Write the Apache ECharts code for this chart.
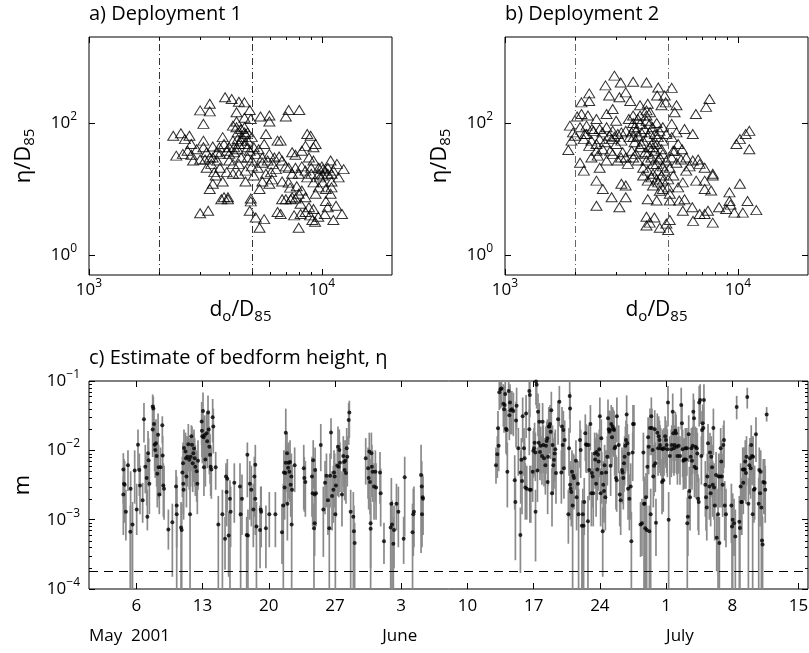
<!DOCTYPE html>
<html>
<head>
<meta charset="utf-8">
<title>Bedform height estimates</title>
<script src="https://cdn.jsdelivr.net/npm/echarts@6/dist/echarts.min.js"></script>
<style>
  html, body { margin: 0; padding: 0; background: #fff; }
  #chart { width: 809px; height: 653px; }
</style>
</head>
<body>
<div id="chart"></div>
<script>
// ---------------------------------------------------------------------------
// Data
// ---------------------------------------------------------------------------

// [d_o/D85, eta/D85] per burst, deployment 1
const dep1Ripples = [
  [3840,245],[4100,230],[4400,210],[4650,205],[3000,155],[3300,150],[3300,195],[4300,145],[4900,157],[5450,125],
  [5950,130],[7200,157],[8000,157],[7000,125],[3100,97],[4150,91],[4300,105],[4650,120],[4950,115],[5950,105],
  [5750,68],[6450,54],[6650,54],[8650,68],[8950,64],[2300,64],[2480,70],[2700,64],[2580,57],[2750,48],
  [3100,54],[3100,43],[3400,44],[3750,61],[3630,43],[2370,32],[2530,34],[2650,38],[2800,27],[3000,28],
  [3150,28],[3400,30],[3550,36],[3900,38],[4000,34],[4200,43],[4150,54],[4400,48],[4550,61],[4800,54],
  [5000,61],[4700,68],[4350,72],[4650,86],[4800,43],[5100,43],[5350,40],[5650,48],[5950,34],[6250,30],
  [6550,31],[6750,27],[7450,36],[7700,33],[8200,38],[8500,45],[9200,43],[9400,48],[8800,30],[9200,27],
  [9700,21],[10000,22],[10300,19],[10600,17],[10900,27],[11600,24],[12400,20],[11000,17],[9800,15],[9000,17],
  [8500,19],[7950,17],[7200,21],[7450,17],[7000,22],[6750,13],[6100,14],[5750,17],[5300,21],[5550,25],
  [5000,22],[4700,19],[4400,17],[4700,13],[5400,10],[5000,27],[4500,30],[4150,24],[3900,18],[3650,21],
  [3450,18],[3400,12],[3300,10],[4150,17],[3700,7],[3800,7.5],[3950,7.5],[3950,7],[3000,4.3],[3250,4.7],
  [4950,7.2],[4950,6.5],[4900,4.7],[5200,3.7],[5400,2.6],[5650,3.5],[6450,4.5],[6750,7],[7000,7],[7350,7],
  [7450,7.5],[7700,7.2],[7950,8.5],[8100,6],[8200,9.5],[6650,4.2],[7600,4],[8100,4.2],[8900,4],[9100,3.4],
  [9350,3.2],[7950,2.6],[9650,3.8],[10300,4.2],[11200,3.4],[12200,4.2],[10600,5.3],[10400,6.6],[10900,8.5],[11500,5.6],
  [11000,10.6],[9700,10.6],[10100,12.6],[9400,8.5],[8500,7.5],[9000,21],[11800,15],
  [4300,86],[4500,81],[4650,72],[4800,72],[4350,57],[4500,54],[4650,48],[4900,38],[4200,36],[4350,40],
  [4000,43],[3800,48],[3650,34],[4000,27],[4400,24],[4800,30],[5200,34],[5550,30],[5850,27],[6150,24],
  [3350,24],[3200,21],[3500,16],[3750,13],[3200,36],[3300,30],[3550,27],[2900,40],[2750,33],[7700,21],
  [8200,22],[8650,15],[9200,12.6],[9700,17],[10100,20],[10600,21],[11200,19],[10100,16],[11000,13],[10400,10],
  [8800,5.3],[9200,5],[8500,4.5],[7300,10.5],[7800,11],[7200,12.5],[6350,20],[6050,18],[5100,16],[5550,13],
  [5950,12]
];

// [d_o/D85, eta/D85] per burst, deployment 2
const dep2Ripples = [
  [2950,520],[3140,410],[2700,370],[3550,420],[4050,410],[4550,345],[5200,340],[4850,260],[4500,260],[2300,280],
  [2130,205],[2300,215],[2800,260],[3100,245],[3300,290],[3450,215],[3800,185],[4100,195],[4200,145],[4700,185],
  [4900,205],[5450,185],[5350,145],[7550,230],[7300,175],[6600,137],[2130,137],[2040,125],[2270,130],[1900,91],
  [1960,72],[2100,86],[2200,68],[2400,76],[2550,81],[2730,86],[2900,76],[3050,68],[3300,76],[3600,86],
  [3800,97],[4050,108],[4300,86],[4600,76],[5200,97],[5900,81],[6400,68],[2470,115],[2730,137],[2900,163],
  [3550,130],[3800,130],[4050,155],[1870,39],[1930,54],[2000,64],[2180,57],[2350,54],[2470,48],[2550,57],
  [2680,51],[2870,57],[3000,48],[3160,54],[3430,61],[3600,51],[3720,64],[3920,54],[4100,61],[4320,51],
  [4530,61],[4760,54],[4930,68],[5200,61],[5540,48],[5760,40],[5270,38],[6000,30],[6400,27],[6750,28],
  [7200,21],[7800,17],[7200,13.4],[6620,13.4],[6000,19],[5800,12.6],[5540,10.6],[2100,25],[2180,19],[2350,30],
  [2500,32],[2550,21],[2730,27],[2900,34],[3050,27],[3200,36],[3300,30],[3500,38],[3650,34],[3800,43],
  [4000,36],[4050,27],[4250,30],[4400,38],[4480,24],[4620,30],[4760,34],[4930,27],[5100,21],[4550,19],
  [4320,17],[4100,19],[3920,21],[4100,13.4],[4320,11.3],[4550,12.6],[4760,13.4],[5020,10.6],[4620,9.4],[4480,6.7],
  [4100,7],[5100,6.7],[5600,6.7],[5900,7],[6370,5.3],[5800,4.7],[5100,3.4],[4930,3],[4620,2.6],[5020,2.4],
  [4380,3.7],[4050,3.8],[4050,2.8],[4180,3.1],[2470,13.4],[2630,10],[2870,7.5],[3160,12],[3300,11.3],[3300,7.5],
  [3100,5.3],[2470,5.6],[6420,3.3],[6850,4.2],[7200,4.2],[7440,4.7],[7800,3.1],[8300,5.3],[8900,5],[9200,6.6],
  [9200,8.9],[9650,4.4],[10500,4.4],[11000,6.6],[12000,4.8],[9300,5.8],[10200,12],[9850,48],[10200,57],[10800,68],
  [11200,76],[11200,40],[7800,16],[7680,9.5],[7200,10],[6850,24],[6200,22],
  [2620,72],[2800,64],[2950,62],[3160,72],[3500,72],[3650,76],[3850,72],[3980,81],[4180,72],[4400,68],
  [3560,61],[3850,48],[4180,43],[4480,48],[4700,40],[4320,43],[4100,34],[4320,24],[4550,28],[4760,22],
  [4850,19],[4700,16],[4480,14],[4250,15],[3920,16],[3720,27],[3550,30],[3370,24],[3150,30],[2830,38],
  [2630,40],[2470,38],[2300,45],[2240,68],[2360,81],[2240,91],[3000,108],[3400,115],[3550,100],[3720,115],
  [4050,130],[4180,97],[4480,100],[4760,86],[5450,72],[5350,38],[5200,30],[5450,25],[5700,28],[5280,16],
  [5020,14],[4760,10],[5100,8.5]
];

// d_o/D85 limits drawn as dash-dot lines
const regimeLimits = [2000, 5000];

// [days since 1 May 2001, eta (m), lower bound, upper bound], deployment 1
const dep1Heights = [
  [3.63,0.0053,0.0017,0.0091],[3.70,0.0033,0.0011,0.0075],[3.77,0.0032,0.0009,0.0070],[3.63,0.0023,0.0006,0.0042],
  [3.90,0.0013,0.0005,0.0027],[4.12,0.0061,0.0026,0.0100],[4.37,0.00067,0.00005,0.0016],[4.60,0.00085,0.00005,0.0018],
  [4.40,0.0028,0.00005,0.0050],[4.83,0.0051,0.0017,0.0100],[5.04,0.0014,0.0006,0.0033],[5.18,0.012,0.0052,0.020],
  [5.32,0.0052,0.0022,0.0090],[5.39,0.0031,0.0012,0.0060],[5.67,0.0019,0.0009,0.0034],[5.81,0.028,0.013,0.048],
  [5.95,0.0058,0.0024,0.012],[6.10,0.0040,0.0016,0.0085],[6.17,0.0011,0.0007,0.0027],[6.24,0.0091,0.0035,0.019],
  [6.30,0.0072,0.0030,0.015],[6.38,0.0033,0.0012,0.0070],[6.73,0.043,0.020,0.064],[6.80,0.040,0.018,0.060],
  [6.73,0.020,0.008,0.040],[6.87,0.024,0.010,0.045],[6.94,0.012,0.005,0.026],[7.00,0.0101,0.004,0.022],
  [7.08,0.0126,0.005,0.028],[7.15,0.0083,0.003,0.018],[7.22,0.0046,0.0015,0.010],[7.30,0.0168,0.007,0.034],
  [7.36,0.0057,0.002,0.012],[7.43,0.0023,0.0012,0.0052],[7.57,0.0057,0.0022,0.011],[7.75,0.023,0.0126,0.031],
  [7.79,0.0084,0.003,0.016],[7.86,0.0031,0.0011,0.0065],[7.93,0.0028,0.0010,0.0060],[8.39,0.00072,0.00037,0.0014],
  [8.81,0.00092,0.00015,0.0017],[9.20,0.0030,0.0012,0.0052],[9.27,0.0016,0.00005,0.0042],[9.27,0.0012,0.0004,0.0028],
  [9.73,0.00077,0.00005,0.0018],[9.80,0.00071,0.00005,0.0017],[9.87,0.0048,0.0021,0.0081],[9.94,0.0065,0.0025,0.013],
  [9.97,0.0033,0.0012,0.0070],[10.00,0.0027,0.0010,0.006],[10.04,0.0108,0.0045,0.020],[10.20,0.0096,0.004,0.018],
  [10.25,0.0077,0.003,0.016],[10.30,0.0042,0.0015,0.009],[10.40,0.0081,0.003,0.016],[10.50,0.0122,0.005,0.024],
  [10.60,0.0073,0.0027,0.015],[10.68,0.0012,0.00005,0.0032],[10.75,0.0081,0.003,0.016],[10.82,0.016,0.0065,0.023],
  [10.89,0.012,0.005,0.022],[10.96,0.0065,0.0025,0.013],[11.03,0.0091,0.0035,0.018],[11.10,0.0106,0.004,0.020],
  [11.17,0.0077,0.003,0.015],[11.24,0.0058,0.0022,0.012],[11.38,0.0050,0.0018,0.010],[11.45,0.0033,0.0012,0.007],
  [11.52,0.0071,0.0027,0.014],[11.91,0.026,0.012,0.050],[11.94,0.0192,0.008,0.035],[11.98,0.016,0.0065,0.030],
  [12.05,0.037,0.016,0.068],[12.12,0.0155,0.006,0.030],[12.15,0.0057,0.0022,0.012],[12.23,0.0167,0.007,0.032],
  [12.30,0.0074,0.003,0.015],[12.44,0.0176,0.007,0.034],[12.50,0.0135,0.0055,0.027],[12.58,0.035,0.015,0.062],
  [12.65,0.020,0.008,0.038],[12.72,0.0113,0.0045,0.022],[12.80,0.0086,0.0033,0.017],[12.86,0.0058,0.0022,0.012],
  [12.93,0.0053,0.002,0.011],[13.07,0.030,0.013,0.055],[13.14,0.022,0.009,0.040],[13.39,0.0057,0.0027,0.0095],
  [13.67,0.00085,0.00005,0.0022],[14.10,0.0012,0.00005,0.0027],[14.38,0.00053,0.00019,0.0011],[14.48,0.0042,0.0011,0.0065],
  [14.55,0.0025,0.0008,0.0055],[14.62,0.0039,0.0013,0.0075],[14.76,0.00059,0.00015,0.0013],[14.90,0.0020,0.00005,0.0037],
  [14.97,0.0013,0.0004,0.0030],[15.36,0.0034,0.0009,0.0065],[15.96,0.0030,0.0011,0.0065],[16.03,0.0012,0.00005,0.0027],
  [16.17,0.0020,0.0006,0.0045],[16.67,0.00060,0.00005,0.0011],[16.74,0.0086,0.0021,0.013],[16.80,0.00059,0.00005,0.0014],
  [17.00,0.0033,0.0010,0.0070],[17.16,0.0027,0.0008,0.0060],[17.37,0.0014,0.0004,0.0033],[17.48,0.0042,0.0011,0.0081],
  [17.58,0.0062,0.0022,0.012],[17.58,0.0020,0.0006,0.0045],[17.70,0.00080,0.00005,0.0018],[18.08,0.00071,0.0002,0.0016],
  [18.15,0.0014,0.0004,0.0030],[18.20,0.0013,0.0004,0.0030],[18.70,0.00075,0.0002,0.0016],[19.06,0.0012,0.0004,0.0025],
  [19.70,0.0012,0.0004,0.0025],[20.40,0.00066,0.00023,0.0017],[20.54,0.0016,0.00005,0.0033],[20.60,0.0048,0.0018,0.010],
  [20.68,0.0029,0.0010,0.0065],[20.75,0.0047,0.0017,0.010],[20.80,0.0066,0.0025,0.013],[20.80,0.018,0.0066,0.040],
  [20.93,0.0091,0.0035,0.018],[20.97,0.0017,0.0005,0.004],[21.04,0.0056,0.002,0.012],[21.10,0.0066,0.0025,0.013],
  [21.18,0.0049,0.0018,0.010],[21.25,0.0068,0.0025,0.014],[21.32,0.0032,0.0011,0.007],[21.39,0.0042,0.0015,0.009],
  [21.42,0.00085,0.00005,0.0017],[21.46,0.0027,0.0009,0.006],[21.74,0.0061,0.0025,0.011],[22.70,0.0055,0.0014,0.012],
  [22.76,0.0040,0.0013,0.008],[22.87,0.0035,0.0011,0.007],[23.57,0.0042,0.0011,0.0081],[23.64,0.0024,0.0008,0.0055],
  [23.70,0.0072,0.0028,0.014],[23.78,0.00075,0.00005,0.0017],[23.85,0.0023,0.0007,0.005],[23.85,0.00089,0.0003,0.002],
  [23.90,0.0052,0.002,0.011],[23.99,0.0024,0.0008,0.0055],[24.50,0.0119,0.005,0.024],[24.77,0.0014,0.00029,0.0030],
  [24.95,0.0034,0.0012,0.007],[25.10,0.0043,0.0015,0.009],[25.26,0.0019,0.0006,0.0042],[25.40,0.00075,0.00005,0.0017],
  [25.48,0.0043,0.0015,0.009],[25.58,0.0181,0.0075,0.029],[25.69,0.0022,0.0007,0.005],[25.83,0.0027,0.0009,0.006],
  [25.90,0.0048,0.0017,0.010],[25.97,0.0042,0.0015,0.009],[26.04,0.0012,0.00005,0.0027],[26.10,0.0031,0.0011,0.0065],
  [26.25,0.0060,0.0022,0.012],[26.32,0.0113,0.0045,0.022],[26.40,0.0058,0.0021,0.012],[26.46,0.0101,0.004,0.020],
  [26.53,0.0066,0.0025,0.013],[26.74,0.0023,0.0008,0.005],[26.88,0.0083,0.003,0.016],[26.95,0.0068,0.0025,0.014],
  [27.02,0.0052,0.0019,0.011],[27.10,0.0071,0.0027,0.014],[27.16,0.0047,0.0017,0.010],[27.24,0.0107,0.0042,0.021],
  [27.30,0.0081,0.003,0.016],[27.45,0.0274,0.012,0.048],[27.52,0.035,0.015,0.052],[27.66,0.0013,0.00005,0.0027],
  [27.94,0.0011,0.00005,0.0025],[28.00,0.00068,0.0002,0.0016],[28.08,0.00046,0.00005,0.0009],[29.25,0.0077,0.0032,0.015],
  [29.50,0.0055,0.002,0.011],[29.56,0.0040,0.0014,0.0085],[29.63,0.0096,0.0037,0.018],[29.70,0.0035,0.0012,0.0075],
  [29.77,0.00089,0.00005,0.0021],[29.77,0.00074,0.0002,0.0017],[29.85,0.0091,0.0035,0.018],[29.90,0.0058,0.0021,0.012],
  [29.98,0.0049,0.0018,0.010],[30.13,0.0030,0.0010,0.0065],[30.27,0.0049,0.0018,0.010],[30.34,0.0029,0.001,0.0065],
  [30.76,0.0048,0.0017,0.0095],[30.83,0.0024,0.0008,0.0055],[31.18,0.00049,0.00023,0.0009],[31.89,0.00077,0.00005,0.0017],
  [31.96,0.0017,0.0005,0.004],[32.03,0.00085,0.00005,0.0019],[32.17,0.00045,0.00005,0.0011],[32.24,0.00071,0.0002,0.0016],
  [32.50,0.0017,0.0007,0.0033],[32.70,0.0013,0.0004,0.003],[33.26,0.00053,0.00023,0.0011],[33.37,0.0041,0.00057,0.0081],
  [34.20,0.00066,0.00005,0.0017],[34.28,0.0012,0.0003,0.0028],[34.35,0.0013,0.0004,0.003],[35.10,0.0044,0.00033,0.012],
  [35.17,0.0030,0.0006,0.007],[35.20,0.0012,0.0004,0.0028],[35.27,0.0021,0.0006,0.0045],[35.30,0.0020,0.0006,0.0042]
];

// [days since 1 May 2001, eta (m), lower bound, upper bound], deployment 2
const dep2Heights = [
  [43.02,0.0061,0.0033,0.011],[43.16,0.0088,0.004,0.016],[43.23,0.0208,0.009,0.037],[43.30,0.0116,0.005,0.022],
  [43.37,0.069,0.038,0.10],[43.50,0.076,0.04,0.12],[43.60,0.078,0.042,0.13],[43.80,0.047,0.022,0.09],
  [43.87,0.039,0.018,0.075],[43.94,0.045,0.02,0.085],[44.00,0.065,0.03,0.12],[44.08,0.0205,0.009,0.04],
  [44.15,0.0197,0.0085,0.038],[44.22,0.0049,0.0015,0.013],[44.36,0.072,0.035,0.13],[44.43,0.032,0.014,0.06],
  [44.50,0.049,0.022,0.09],[44.57,0.038,0.017,0.07],[44.70,0.039,0.017,0.072],[44.86,0.037,0.016,0.068],
  [45.00,0.0037,0.0014,0.0085],[45.07,0.0018,0.00026,0.0042],[45.14,0.027,0.011,0.05],[45.20,0.044,0.02,0.08],
  [45.38,0.0107,0.0043,0.021],[45.60,0.0006,0.00017,0.0015],[45.63,0.0048,0.0017,0.010],[45.70,0.0073,0.0028,0.015],
  [45.77,0.0036,0.0012,0.0078],[45.84,0.031,0.013,0.058],[45.98,0.0107,0.0043,0.021],[46.05,0.0077,0.003,0.015],
  [46.12,0.0029,0.001,0.0065],[46.20,0.034,0.015,0.063],[46.27,0.0028,0.001,0.006],[46.54,0.072,0.034,0.13],
  [46.60,0.063,0.03,0.11],[46.54,0.0201,0.0085,0.039],[46.60,0.0027,0.0009,0.006],[46.70,0.0027,0.0009,0.006],
  [46.90,0.0049,0.0018,0.010],[46.97,0.0099,0.004,0.019],[47.04,0.0107,0.0043,0.021],[47.10,0.0129,0.005,0.025],
  [47.18,0.0093,0.0036,0.018],[47.20,0.0013,0.00025,0.0027],[47.25,0.098,0.045,0.17],[47.32,0.088,0.04,0.16],
  [47.40,0.0051,0.0018,0.011],[47.46,0.036,0.016,0.066],[47.53,0.0129,0.005,0.025],[47.60,0.0259,0.011,0.048],
  [47.67,0.0095,0.0037,0.018],[47.74,0.0116,0.0046,0.022],[47.88,0.0083,0.0032,0.016],[47.95,0.0259,0.011,0.048],
  [48.02,0.0119,0.0047,0.023],[48.10,0.0077,0.003,0.015],[48.24,0.0061,0.0023,0.012],[48.30,0.0116,0.0046,0.022],
  [48.38,0.0136,0.0055,0.026],[48.45,0.0149,0.006,0.028],[48.48,0.0035,0.0012,0.0075],[48.52,0.0081,0.0031,0.016],
  [48.60,0.022,0.009,0.042],[48.66,0.022,0.009,0.042],[48.73,0.024,0.01,0.045],[48.80,0.0186,0.0075,0.036],
  [48.87,0.038,0.017,0.07],[48.94,0.0024,0.0008,0.0055],[49.00,0.0119,0.0047,0.023],[49.08,0.0061,0.0023,0.012],
  [49.15,0.0073,0.0028,0.015],[49.22,0.0090,0.0035,0.018],[49.29,0.0104,0.0041,0.02],[49.36,0.0047,0.0017,0.0095],
  [49.58,0.028,0.012,0.052],[49.72,0.050,0.022,0.085],[49.93,0.0048,0.0017,0.010],[50.00,0.0221,0.009,0.042],
  [50.07,0.0119,0.0047,0.023],[50.14,0.0197,0.008,0.037],[50.20,0.0055,0.002,0.011],[50.28,0.0141,0.0056,0.027],
  [50.67,0.0012,0.00045,0.0027],[50.74,0.0107,0.0043,0.021],[50.81,0.061,0.028,0.1],[50.85,0.040,0.018,0.07],
  [50.85,0.0032,0.0011,0.007],[50.90,0.0028,0.001,0.006],[50.98,0.0025,0.0008,0.0055],[51.05,0.0049,0.0018,0.010],
  [51.12,0.0016,0.00005,0.0036],[51.20,0.0043,0.0015,0.009],[51.26,0.0040,0.0014,0.0085],[51.47,0.0071,0.0027,0.014],
  [51.54,0.0021,0.0007,0.0047],[51.68,0.0033,0.0011,0.007],[51.75,0.0012,0.00005,0.0028],[51.90,0.0141,0.0056,0.027],
  [51.97,0.0101,0.004,0.02],[52.10,0.00082,0.00005,0.0019],[52.20,0.0012,0.00005,0.0028],[52.28,0.00082,0.00005,0.0019],
  [52.35,0.0018,0.0006,0.004],[52.46,0.0176,0.007,0.033],[52.53,0.0122,0.0048,0.024],[52.60,0.0119,0.0047,0.023],
  [52.74,0.00095,0.00005,0.0022],[52.81,0.0119,0.0047,0.023],[52.88,0.0052,0.0019,0.011],[53.00,0.024,0.01,0.045],
  [53.10,0.0024,0.0008,0.0055],[53.15,0.0047,0.0017,0.0095],[53.24,0.0042,0.0015,0.009],[53.30,0.0024,0.0008,0.0055],
  [53.45,0.0090,0.0035,0.018],[53.50,0.0074,0.0028,0.015],[53.60,0.0033,0.0011,0.007],[53.66,0.0095,0.0037,0.018],
  [53.73,0.0053,0.0019,0.011],[53.80,0.0086,0.0033,0.017],[53.87,0.0069,0.0026,0.014],[53.94,0.0104,0.0041,0.02],
  [54.00,0.031,0.013,0.058],[54.08,0.0024,0.0008,0.0055],[54.15,0.0149,0.006,0.028],[54.20,0.0047,0.0017,0.0095],
  [54.30,0.00068,0.00015,0.0015],[54.36,0.0032,0.0011,0.007],[54.44,0.0026,0.0009,0.0058],[54.50,0.0061,0.0023,0.012],
  [54.58,0.0021,0.0007,0.0047],[54.65,0.0048,0.0017,0.010],[54.79,0.0081,0.0031,0.016],[54.86,0.029,0.012,0.054],
  [54.93,0.0201,0.0082,0.038],[55.00,0.0186,0.0075,0.036],[55.07,0.0197,0.008,0.037],[55.14,0.0060,0.0022,0.012],
  [55.20,0.024,0.01,0.045],[55.28,0.0155,0.0062,0.03],[55.35,0.022,0.009,0.042],[55.42,0.0203,0.0083,0.039],
  [55.50,0.0197,0.008,0.037],[55.56,0.0107,0.0043,0.021],[55.63,0.0113,0.0045,0.022],[55.70,0.0040,0.0014,0.0085],
  [55.78,0.0037,0.0013,0.008],[55.80,0.031,0.013,0.058],[55.99,0.0119,0.0047,0.023],[56.10,0.0023,0.0008,0.005],
  [56.20,0.0019,0.0006,0.0042],[56.34,0.0052,0.0019,0.011],[56.40,0.0048,0.0017,0.010],[56.48,0.0040,0.0014,0.0085],
  [56.55,0.0065,0.0025,0.013],[56.62,0.0081,0.0031,0.016],[56.70,0.0116,0.0046,0.022],[56.76,0.0141,0.0056,0.027],
  [56.83,0.033,0.014,0.062],[56.90,0.0126,0.005,0.024],[56.98,0.0028,0.001,0.006],[57.04,0.0089,0.0034,0.017],
  [57.12,0.0020,0.0007,0.0045],[57.26,0.0030,0.001,0.0065],[57.33,0.00049,0.00005,0.0013],[57.47,0.0093,0.0036,0.018],
  [57.50,0.024,0.01,0.045],[57.60,0.024,0.01,0.045],[58.30,0.00085,0.00029,0.0018],[58.45,0.00089,0.0003,0.002],
  [58.60,0.0093,0.0036,0.018],[58.67,0.0017,0.00005,0.0042],[58.73,0.0017,0.00005,0.004],[58.80,0.00075,0.00005,0.0021],
  [58.88,0.0021,0.0007,0.0047],[58.95,0.00071,0.00005,0.0016],[59.02,0.0058,0.0021,0.012],[59.10,0.0155,0.0062,0.03],
  [59.16,0.0113,0.0045,0.022],[59.23,0.00068,0.00005,0.0016],[59.30,0.021,0.0085,0.04],[59.37,0.0012,0.00005,0.0028],
  [59.44,0.031,0.013,0.058],[59.50,0.021,0.0085,0.04],[59.58,0.0101,0.004,0.02],[59.65,0.0042,0.0015,0.009],
  [59.72,0.0060,0.0022,0.012],[59.80,0.0201,0.0082,0.038],[59.86,0.0065,0.0025,0.013],[59.93,0.00090,0.0003,0.002],
  [60.07,0.018,0.0072,0.034],[60.15,0.0107,0.0043,0.021],[60.22,0.016,0.0064,0.031],[60.30,0.0141,0.0056,0.027],
  [60.36,0.0119,0.0047,0.023],[60.43,0.0107,0.0043,0.021],[60.57,0.0035,0.0012,0.0075],[60.64,0.0104,0.0041,0.02],
  [60.70,0.0037,0.0013,0.008],[60.78,0.0107,0.0043,0.021],[60.90,0.016,0.0064,0.031],[60.98,0.0141,0.0056,0.027],
  [61.06,0.0119,0.0047,0.023],[61.13,0.0104,0.0041,0.02],[61.20,0.049,0.022,0.085],[61.27,0.0010,0.00005,0.0025],
  [61.40,0.0083,0.0032,0.016],[61.55,0.0104,0.0041,0.02],[61.60,0.0119,0.0047,0.023],[61.70,0.036,0.016,0.066],
  [61.76,0.0176,0.007,0.033],[61.83,0.0107,0.0043,0.021],[61.90,0.0119,0.0047,0.023],[61.98,0.0191,0.0078,0.036],
  [62.05,0.0176,0.007,0.033],[62.12,0.0113,0.0045,0.022],[62.20,0.0083,0.0032,0.016],[62.33,0.0116,0.0046,0.022],
  [62.47,0.0083,0.0032,0.016],[62.60,0.045,0.02,0.08],[62.68,0.0245,0.01,0.046],[62.75,0.0104,0.0041,0.02],
  [62.82,0.0071,0.0027,0.014],[62.90,0.0073,0.0028,0.015],[62.96,0.0074,0.0028,0.015],[63.04,0.0107,0.0043,0.021],
  [63.10,0.0074,0.0028,0.015],[63.20,0.0107,0.0043,0.021],[63.24,0.00089,0.00005,0.0021],[63.30,0.0011,0.0003,0.0026],
  [63.39,0.017,0.0068,0.032],[63.46,0.0026,0.0009,0.0058],[63.53,0.0021,0.0007,0.0047],[63.60,0.0081,0.0031,0.016],
  [63.67,0.0107,0.0043,0.021],[63.74,0.0071,0.0027,0.014],[63.81,0.0116,0.0046,0.022],[63.88,0.036,0.016,0.066],
  [63.95,0.029,0.012,0.054],[64.00,0.0058,0.0021,0.012],[64.10,0.0113,0.0045,0.022],[64.17,0.0055,0.002,0.011],
  [64.24,0.0107,0.0043,0.021],[64.30,0.0090,0.0035,0.018],[64.38,0.0020,0.0007,0.0045],[64.45,0.0018,0.0006,0.004],
  [64.50,0.049,0.022,0.085],[64.60,0.053,0.024,0.09],[64.73,0.0083,0.0032,0.016],[64.80,0.0197,0.008,0.037],
  [64.87,0.0245,0.01,0.046],[64.94,0.021,0.0085,0.04],[65.00,0.053,0.024,0.09],[65.15,0.0032,0.0011,0.007],
  [65.22,0.0021,0.0007,0.0047],[65.30,0.0015,0.0005,0.0034],[65.36,0.0042,0.0015,0.009],[65.43,0.0126,0.005,0.024],
  [65.57,0.0030,0.001,0.0065],[65.64,0.0093,0.0036,0.018],[65.71,0.0024,0.0008,0.0055],[65.78,0.0081,0.0031,0.016],
  [65.86,0.0057,0.0021,0.012],[65.93,0.0032,0.0011,0.007],[66.00,0.021,0.0085,0.04],[66.07,0.0029,0.001,0.0065],
  [66.14,0.0016,0.0005,0.0036],[66.28,0.0044,0.0015,0.0095],[66.35,0.00055,0.00018,0.0012],[66.49,0.0012,0.00005,0.0028],
  [66.56,0.0042,0.0015,0.009],[66.63,0.00046,0.00005,0.0011],[66.70,0.0042,0.0015,0.009],[66.77,0.0107,0.0043,0.021],
  [66.84,0.0069,0.0026,0.014],[66.90,0.0042,0.0015,0.009],[66.98,0.0032,0.0011,0.007],[67.05,0.0119,0.0047,0.023],
  [67.12,0.0141,0.0056,0.027],[67.20,0.0016,0.0005,0.0036],[67.33,0.0012,0.0004,0.0028],[67.90,0.0016,0.00046,0.0033],
  [67.97,0.00080,0.00005,0.0019],[68.04,0.0010,0.00005,0.0024],[68.18,0.00089,0.0003,0.002],[68.32,0.00057,0.00005,0.0014],
  [68.46,0.042,0.028,0.061],[68.74,0.00093,0.00005,0.0022],[68.80,0.00076,0.00005,0.0018],[68.88,0.0030,0.001,0.0065],
  [68.95,0.0018,0.0006,0.004],[69.00,0.0018,0.0006,0.004],[69.10,0.0053,0.0019,0.011],[69.16,0.0034,0.0012,0.0075],
  [69.23,0.0053,0.0019,0.011],[69.30,0.0053,0.0019,0.011],[69.37,0.0069,0.0026,0.014],[69.44,0.0047,0.0017,0.0095],
  [69.50,0.0081,0.0031,0.016],[69.58,0.059,0.04,0.08],[69.70,0.0017,0.00005,0.004],[69.80,0.0061,0.0023,0.012],
  [69.87,0.0077,0.003,0.015],[69.94,0.0055,0.002,0.011],[70.00,0.0119,0.0047,0.023],[70.08,0.0083,0.0032,0.016],
  [70.15,0.0012,0.00005,0.0028],[70.20,0.0081,0.0031,0.016],[70.29,0.0027,0.0009,0.006],[70.36,0.0028,0.001,0.006],
  [70.50,0.017,0.0068,0.03],[70.79,0.0017,0.00005,0.004],[70.85,0.0052,0.0019,0.011],[70.93,0.0024,0.0008,0.0055],
  [71.00,0.0049,0.0018,0.010],[71.07,0.0015,0.00005,0.0034],[71.14,0.00050,0.00005,0.0012],[71.20,0.00044,0.00005,0.0011],
  [71.27,0.0035,0.0012,0.0075],[71.42,0.0034,0.0012,0.0075],[71.48,0.0027,0.0009,0.006],[71.63,0.033,0.026,0.042]
];

// detection floor (m), drawn dashed
const noiseFloor = 1.8e-4;

// axis ranges and ticks
const d85Range = [1000, 20000];
const d85Ticks = [1000, 10000];
const d85MinorTicks = [2000, 3000, 4000, 5000, 6000, 7000, 8000, 9000];
const eta85Range = [0.5, 2000];
const eta85Ticks = [1, 100];
const dayRange = [0, 76];
const dayTickValues = [5, 12, 19, 26, 33, 40, 47, 54, 61, 68, 75];
const dayTickLabels = ['6', '13', '20', '27', '3', '10', '17', '24', '1', '8', '15'];
const monthStarts = [0, 31, 61];
const monthLabels = ['May  2001', 'June', 'July'];
const heightRange = [1e-4, 1e-1];
const heightTicks = [1e-4, 1e-3, 1e-2, 1e-1];
const heightMinorTicks = [];
for (let e = -4; e < -1; e++) {
  for (let m = 2; m <= 9; m++) heightMinorTicks.push(m * Math.pow(10, e));
}

// ---------------------------------------------------------------------------
// Styling helpers
// ---------------------------------------------------------------------------
const FONT = '"Open Sans", "Noto Sans", sans-serif';
const INK = '#000';

const powerRich = {
  b: { fontFamily: FONT, fontSize: 17, color: INK },
  p: { fontFamily: FONT, fontSize: 12, color: INK, padding: [0, 0, 13, 0] }
};

function powerLabel(exp) {
  return '{b|10}{p|' + exp + '}';
}

function matchTick(list, v) {
  for (let i = 0; i < list.length; i++) {
    if (Math.abs(v - list[i]) <= list[i] * 1e-6) return i;
  }
  return -1;
}

function decadeLabel(list) {
  return function (v) {
    const i = matchTick(list, v);
    if (i < 0) return '';
    const e = Math.round(Math.log10(list[i]));
    return powerLabel(e < 0 ? '\u2212' + (-e) : String(e));
  };
}

function plainAxis(opts) {
  return Object.assign({
    silent: true,
    axisLine: { show: false, onZero: false },
    splitLine: { show: false },
    minorTick: { show: false },
    minorSplitLine: { show: false },
    axisTick: { show: false },
    axisLabel: { show: false }
  }, opts);
}

function valueTicks(values, len) {
  return {
    show: true, inside: true, length: len, customValues: values,
    lineStyle: { color: INK, width: 1 }
  };
}

// Inward tick marks on both opposite edges of a grid, placed through the axis scales.
function tickSeries(xIndex, yIndex, dim, values, len, anchor) {
  return {
    type: 'custom',
    xAxisIndex: xIndex,
    yAxisIndex: yIndex,
    silent: true,
    z: 6,
    clip: false,
    data: values.map(function (v) { return dim === 'x' ? [v, anchor] : [anchor, v]; }),
    encode: { x: 0, y: 1 },
    renderItem: function (params, api) {
      const cs = params.coordSys;
      const p = api.coord([api.value(0), api.value(1)]);
      const st = { stroke: INK, lineWidth: 1 };
      let a, b;
      if (dim === 'x') {
        const x = Math.round(p[0]) + 0.5;
        a = { x1: x, y1: cs.y, x2: x, y2: cs.y + len };
        b = { x1: x, y1: cs.y + cs.height, x2: x, y2: cs.y + cs.height - len };
      } else {
        const y = Math.round(p[1]) + 0.5;
        a = { x1: cs.x, y1: y, x2: cs.x + len, y2: y };
        b = { x1: cs.x + cs.width, y1: y, x2: cs.x + cs.width - len, y2: y };
      }
      return {
        type: 'group',
        children: [
          { type: 'line', shape: a, style: st },
          { type: 'line', shape: b, style: st }
        ]
      };
    }
  };
}

function ratioXAxis(gridIndex) {
  return plainAxis({
    type: 'log', logBase: 10, gridIndex: gridIndex, position: 'bottom',
    min: d85Range[0], max: d85Range[1],
    axisLabel: { show: true, margin: 3, formatter: decadeLabel(d85Ticks), rich: powerRich },
    name: '{i|d}{s|o}{i|/D}{s|85}',
    nameLocation: 'middle',
    nameGap: 12,
    nameTextStyle: {
      rich: {
        i: { fontFamily: FONT, fontSize: 21, color: INK },
        s: { fontFamily: FONT, fontSize: 15, color: INK, padding: [12, 0, 0, 0] }
      }
    }
  });
}

function ratioYAxis(gridIndex) {
  return plainAxis({
    type: 'log', logBase: 10, gridIndex: gridIndex, position: 'left',
    min: eta85Range[0], max: eta85Range[1],
    axisLabel: { show: true, margin: 12, formatter: decadeLabel(eta85Ticks), rich: powerRich },
    name: '{i|\u03b7/D}{s|85}',
    nameLocation: 'middle',
    nameRotate: 90,
    nameGap: 52,
    nameTextStyle: {
      rich: {
        i: { fontFamily: FONT, fontSize: 22, color: INK },
        s: { fontFamily: FONT, fontSize: 15, color: INK, padding: [12, 0, 0, 0] }
      }
    }
  });
}

function ripplesSeries(data, axisIndex, limitColor) {
  return {
    type: 'scatter',
    xAxisIndex: axisIndex,
    yAxisIndex: axisIndex,
    data: data,
    symbol: 'triangle',
    symbolSize: [11, 9],
    itemStyle: { color: 'rgba(0,0,0,0)', borderColor: INK, borderWidth: 1 },
    silent: true,
    z: 3,
    markLine: {
      silent: true,
      symbol: 'none',
      precision: 10,
      label: { show: false },
      lineStyle: { color: limitColor, width: 1, type: [7, 3, 1, 3] },
      data: regimeLimits.map(function (v) { return { xAxis: v }; }),
      animation: false
    }
  };
}

function errorBarSeries(rows) {
  return {
    type: 'custom',
    xAxisIndex: 2,
    yAxisIndex: 2,
    silent: true,
    z: 2,
    data: rows.map(function (r) { return [r[0], r[2], r[3]]; }),
    encode: { x: 0, y: [1, 2] },
    renderItem: function (params, api) {
      const lo = api.coord([api.value(0), api.value(1)]);
      const hi = api.coord([api.value(0), api.value(2)]);
      const cs = params.coordSys;
      const top = cs.y, bottom = cs.y + cs.height;
      const y1 = Math.max(top, Math.min(bottom, hi[1]));
      const y2 = Math.max(top, Math.min(bottom, lo[1]));
      return {
        type: 'line',
        shape: { x1: lo[0], y1: y1, x2: lo[0], y2: y2 },
        style: { stroke: '#8a8a8a', lineWidth: 1.7 }
      };
    }
  };
}

function heightPointSeries(rows, withFloor) {
  const s = {
    type: 'scatter',
    xAxisIndex: 2,
    yAxisIndex: 2,
    data: rows.map(function (r) { return [r[0], r[1]]; }),
    symbol: 'circle',
    symbolSize: 4,
    itemStyle: { color: INK },
    silent: true,
    z: 4
  };
  if (withFloor) {
    s.markLine = {
      silent: true,
      symbol: 'none',
      precision: 10,
      label: { show: false },
      lineStyle: { color: INK, width: 1, type: [9, 6] },
      data: [{ yAxis: noiseFloor }],
      animation: false
    };
  }
  return s;
}

// ---------------------------------------------------------------------------
// Chart
// ---------------------------------------------------------------------------
const gridBox = { show: true, borderColor: INK, borderWidth: 1, backgroundColor: 'rgba(0,0,0,0)', containLabel: false, outerBoundsMode: 'none' };

const titleStyle = { fontFamily: FONT, fontSize: 20, fontWeight: 'normal', color: INK };

const option = {
  animation: false,
  backgroundColor: '#fff',
  title: [
    { text: 'a) Deployment 1', left: 89, top: 4, padding: 0, textStyle: titleStyle },
    { text: 'b) Deployment 2', left: 505, top: 4, padding: 0, textStyle: titleStyle },
    { text: 'c) Estimate of bedform height, \u03b7', left: 89, top: 348, padding: 0, textStyle: titleStyle }
  ],
  grid: [
    Object.assign({ left: 89, top: 37, width: 303, height: 238 }, gridBox),
    Object.assign({ left: 505, top: 37, width: 303, height: 238 }, gridBox),
    Object.assign({ left: 89, top: 381, width: 719, height: 208 }, gridBox)
  ],
  xAxis: [
    ratioXAxis(0),
    ratioXAxis(1),
    plainAxis({
      type: 'value', gridIndex: 2, position: 'bottom', min: dayRange[0], max: dayRange[1],
      axisTick: valueTicks(dayTickValues, 6),
      axisLabel: {
        show: true, margin: 9, customValues: dayTickValues,
        fontFamily: FONT, fontSize: 17, color: INK,
        formatter: function (v) { const i = dayTickValues.indexOf(v); return i < 0 ? '' : dayTickLabels[i]; }
      }
    }),
    plainAxis({
      type: 'value', gridIndex: 2, position: 'top', min: dayRange[0], max: dayRange[1],
      axisTick: valueTicks(dayTickValues, 6)
    }),
    plainAxis({
      type: 'value', gridIndex: 2, position: 'bottom', offset: 31, min: dayRange[0], max: dayRange[1],
      axisLabel: {
        show: true, margin: 8, customValues: monthStarts, align: 'left',
        fontFamily: FONT, fontSize: 17, color: INK,
        formatter: function (v) { const i = monthStarts.indexOf(v); return i < 0 ? '' : monthLabels[i]; }
      }
    })
  ],
  yAxis: [
    ratioYAxis(0),
    ratioYAxis(1),
    plainAxis({
      type: 'log', logBase: 10, gridIndex: 2, position: 'left', min: heightRange[0], max: heightRange[1],
      axisTick: { show: true, inside: true, length: 6, lineStyle: { color: INK, width: 1 } },
      axisLabel: { show: true, margin: 9, formatter: decadeLabel(heightTicks), rich: powerRich },
      name: 'm',
      nameLocation: 'middle',
      nameRotate: 90,
      nameGap: 55,
      nameTextStyle: { fontFamily: FONT, fontSize: 22, color: INK }
    }),
    plainAxis({
      type: 'log', logBase: 10, gridIndex: 2, position: 'right', min: heightRange[0], max: heightRange[1],
      axisTick: { show: true, inside: true, length: 6, lineStyle: { color: INK, width: 1 } }
    })
  ],
  series: [
    ripplesSeries(dep1Ripples, 0, '#333'),
    ripplesSeries(dep2Ripples, 1, '#666'),
    tickSeries(0, 0, 'x', d85Ticks, 6, eta85Range[0]),
    tickSeries(0, 0, 'x', d85MinorTicks, 3, eta85Range[0]),
    tickSeries(0, 0, 'y', eta85Ticks, 6, d85Range[0]),
    tickSeries(1, 1, 'x', d85Ticks, 6, eta85Range[0]),
    tickSeries(1, 1, 'x', d85MinorTicks, 3, eta85Range[0]),
    tickSeries(1, 1, 'y', eta85Ticks, 6, d85Range[0]),
    tickSeries(2, 2, 'y', heightMinorTicks, 3, dayRange[0]),
    errorBarSeries(dep1Heights),
    errorBarSeries(dep2Heights),
    heightPointSeries(dep1Heights, true),
    heightPointSeries(dep2Heights, false)
  ]
};

const chart = echarts.init(document.getElementById('chart'), null, { renderer: 'canvas' });
chart.setOption(option);
</script>
</body>
</html>
